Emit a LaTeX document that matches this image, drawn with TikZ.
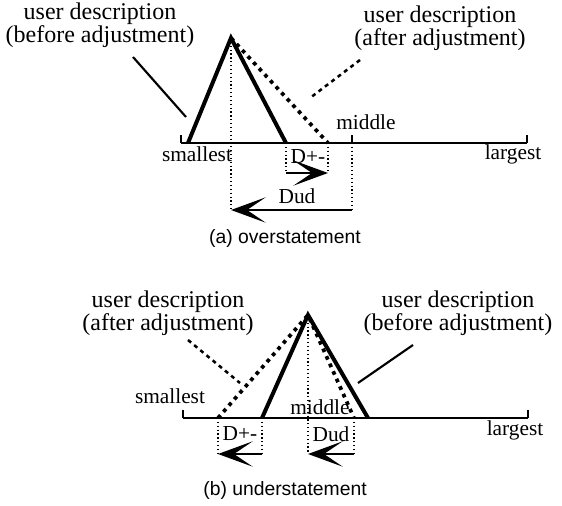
\documentclass[tikz,border=0pt]{standalone}
\usepackage{fontspec}
\setmainfont{Liberation Serif}
\setsansfont{Liberation Sans}
\usetikzlibrary{arrows.meta}

\tikzset{
  leg/.style={line width=3pt},
  adjleg/.style={line width=2.8pt, dash pattern=on 2.8pt off 3.4pt},
  guide/.style={line width=0.9pt, dotted},
  axisline/.style={line width=1.1pt},
  pointer/.style={line width=1.6pt},
  adjpointer/.style={line width=1.9pt, dash pattern=on 3pt off 3pt},
  darrow/.style={line width=1.6pt, -{Stealth[length=26pt,width=19pt,inset=14pt]}},
  desc/.style={font=\fontsize{18}{16.5}\selectfont, align=center, inner sep=0pt},
  scaletext/.style={font=\fontsize{16}{18}\selectfont, inner sep=0pt},
  capt/.style={font=\sffamily\fontsize{14.5}{16}\selectfont, inner sep=0pt}
}

\begin{document}
\begin{tikzpicture}[x=0.75pt, y=-0.75pt]
  \useasboundingbox (0,0) rectangle (562,506);

  % (a) overstatement
  \coordinate (a-top) at (231,38);
  \coordinate (a-min) at (181,143);
  \coordinate (a-max) at (527,143);
  \coordinate (a-mid) at (352,143);
  \coordinate (a-ul) at (188,143);
  \coordinate (a-ur) at (286,143);
  \coordinate (a-dr) at (328,143);
  \coordinate (a-d0) at (286,173);
  \coordinate (a-d1) at (328,173);
  \coordinate (a-u0) at (352,210);
  \coordinate (a-u1) at (231,210);
  \coordinate (a-p0) at (133,57);
  \coordinate (a-p1) at (186,117);
  \coordinate (a-q0) at (360,60);
  \coordinate (a-q1) at (310,98);

  \node[desc] (a-before) at (100,25) {user description\\(before adjustment)};
  \node[desc] (a-after) at (440,28) {user description\\(after adjustment)};
  \node[scaletext] (a-smallest) at (197,154) {smallest};
  \node[scaletext] (a-middle) at (366,122) {middle};
  \node[scaletext] (a-largest) at (513,154) {largest};
  \node[scaletext] (a-dpm) at (308,157) {D+-};
  \node[scaletext] (a-dud) at (297,196) {Dud};
  \node[capt] (a-capt) at (285,238) {(a) overstatement};

  \draw[axisline] (a-min) -- (a-max);
  \draw[axisline] (a-min) -- ++(0,-8);
  \draw[axisline] (a-max) -- ++(0,-8);
  \draw[axisline] (a-mid) -- ++(0,-8);
  \draw[leg] (a-ul) -- (a-top) -- (a-ur);
  \draw[adjleg] (a-top) -- (a-dr);
  \draw[pointer] (a-p0) -- (a-p1);
  \draw[adjpointer] (a-q0) -- (a-q1);
  \draw[guide] (a-top) -- (a-u1);
  \draw[guide] (a-mid) -- (a-u0);
  \draw[guide] (a-ur) -- (a-d0);
  \draw[guide] (a-dr) -- (a-d1);
  \draw[darrow] (a-d0) -- (a-d1);
  \draw[darrow] (a-u0) -- (a-u1);

  % (b) understatement
  \coordinate (b-top) at (308,315);
  \coordinate (b-min) at (183,418);
  \coordinate (b-max) at (528,418);
  \coordinate (b-mid) at (308,418);
  \coordinate (b-dl) at (218,418);
  \coordinate (b-ul) at (262,418);
  \coordinate (b-ur) at (368,418);
  \coordinate (b-dr) at (354,418);
  \coordinate (b-d0) at (262,454);
  \coordinate (b-d1) at (218,454);
  \coordinate (b-u0) at (354,454);
  \coordinate (b-u1) at (308,454);
  \coordinate (b-p0) at (413,345);
  \coordinate (b-p1) at (358,383);
  \coordinate (b-q0) at (188,340);
  \coordinate (b-q1) at (240,383);

  \node[desc] (b-after) at (168,313) {user description\\(after adjustment)};
  \node[desc] (b-before) at (458,313) {user description\\(before adjustment)};
  \node[scaletext] (b-smallest) at (170,396) {smallest};
  \node[scaletext] (b-middle) at (320,407) {middle};
  \node[scaletext] (b-largest) at (515,430) {largest};
  \node[scaletext] (b-dpm) at (240,434) {D+-};
  \node[scaletext] (b-dud) at (331,434) {Dud};
  \node[capt] (b-capt) at (285,490) {(b) understatement};

  \draw[axisline] (b-min) -- (b-max);
  \draw[axisline] (b-min) -- ++(0,-8);
  \draw[axisline] (b-max) -- ++(0,-8);
  \draw[adjleg] (b-dl) -- (b-top) -- (b-dr);
  \draw[leg] (b-ul) -- (b-top) -- (b-ur);
  \draw[pointer] (b-p0) -- (b-p1);
  \draw[adjpointer] (b-q0) -- (b-q1);
  \draw[guide] (b-top) -- (b-u1);
  \draw[guide] (b-dr) -- (b-u0);
  \draw[guide] (b-dl) -- (b-d1);
  \draw[guide] (b-ul) -- (b-d0);
  \draw[darrow] (b-d0) -- (b-d1);
  \draw[darrow] (b-u0) -- (b-u1);
\end{tikzpicture}
\end{document}
